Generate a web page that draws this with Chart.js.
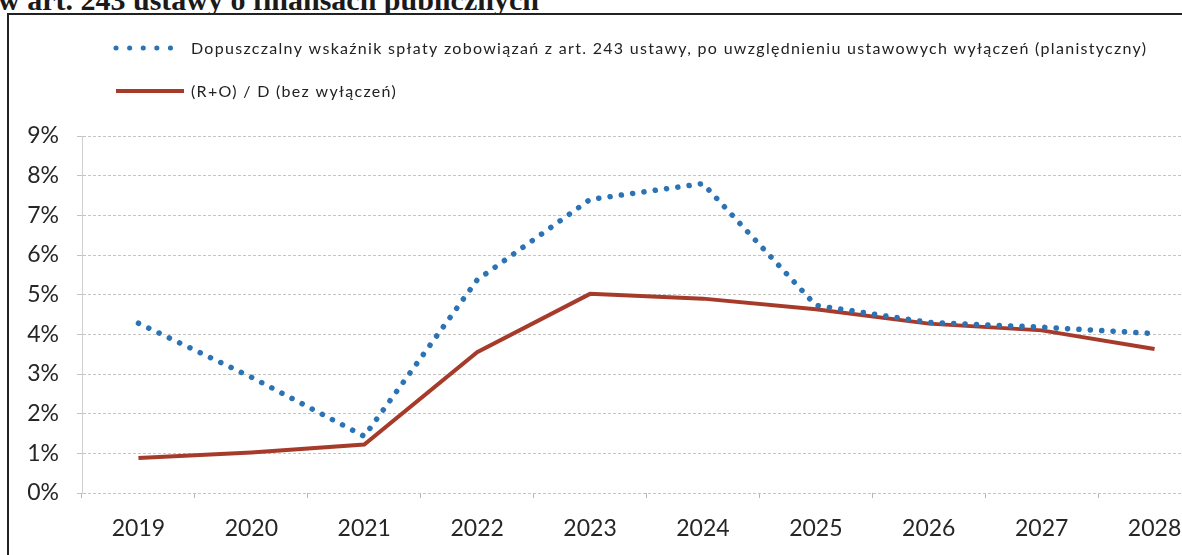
<!DOCTYPE html>
<html>
<head>
<meta charset="utf-8">
<script src="https://cdn.jsdelivr.net/npm/chart.js"></script>
<style>
  html, body { margin:0; padding:0; background:#fff; width:1182px; height:555px; overflow:hidden; }
  #title { position:absolute; left:-2px; top:-15px; font:bold 30px "Liberation Serif", serif; line-height:30px; color:#1a1a1a; white-space:nowrap; }
  #box { position:absolute; left:7px; top:13px; width:1260px; height:600px; border:2px solid #222; box-sizing:border-box; background:#fff; }
  #wrap { position:absolute; left:0; top:0; width:1240px; height:555px; }
</style>
</head>
<body>
<div id="title">w art. 243 ustawy o finansach publicznych</div>
<div id="box"></div>
<div id="wrap"><canvas id="Chart"></canvas></div>
<script>
const years = ['2019','2020','2021','2022','2023','2024','2025','2026','2027','2028'];
const dopuszczalny = [4.28, 2.92, 1.43, 5.37, 7.40, 7.80, 4.73, 4.30, 4.18, 4.02];
const rodBezWylaczen = [0.88, 1.02, 1.22, 3.55, 5.02, 4.90, 4.63, 4.27, 4.10, 3.63];
const labelDop = 'Dopuszczalny wskaźnik spłaty zobowiązań z art. 243 ustawy, po uwzględnieniu ustawowych wyłączeń (planistyczny)';
const labelRod = '(R+O) / D (bez wyłączeń)';

const blue = '#2b73b4';
const red = '#a63b2b';

// legenda rysowana recznie: dwa wiersze jak w oryginale
const rowLegend = {
    id: 'rowLegend',
    afterDraw(chart) {
        const ctx = chart.ctx;
        const rows = [48, 91];
        chart.data.datasets.forEach((ds, i) => {
            const y = rows[i];
            ctx.save();
            ctx.strokeStyle = ds.borderColor;
            ctx.lineWidth = ds.borderDash ? 5 : 4;
            ctx.lineCap = ds.borderCapStyle || 'butt';
            ctx.setLineDash(ds.borderDash ? [0.1, 13.5] : []);
            ctx.beginPath();
            ctx.moveTo(116, y);
            ctx.lineTo(184, y);
            ctx.stroke();
            ctx.setLineDash([]);
            ctx.fillStyle = '#222';
            ctx.font = '16px Lato';
            ctx.letterSpacing = '1.3px';
            ctx.textBaseline = 'middle';
            ctx.fillText(ds.label, 191, y + 1);
            ctx.restore();
        });
    }
};

const ctx = document.getElementById('Chart');

new Chart(ctx, {
    type: 'line',
    data: {
        labels: years,
        datasets: [{
            label: labelDop,
            data: dopuszczalny,
            borderColor: blue,
            borderWidth: 5.5,
            borderDash: [0.1, 11.3],
            borderCapStyle: 'round',
            pointRadius: 0,
            tension: 0,
            fill: false
        }, {
            label: labelRod,
            data: rodBezWylaczen,
            borderColor: red,
            borderWidth: 4,
            borderCapStyle: 'butt',
            borderJoinStyle: 'miter',
            pointRadius: 0,
            tension: 0,
            fill: false
        }]
    },
    options: {
        responsive: true,
        maintainAspectRatio: false,
        animation: false,
        layout: {
            padding: { top: 136, right: 29, bottom: 0, left: 0 }
        },
        scales: {
            x: {
                offset: true,
                afterFit: (s) => { s.height = 62; },
                grid: {
                    offset: true,
                    drawOnChartArea: false,
                    drawTicks: true,
                    tickLength: 5,
                    color: '#b5b5b5'
                },
                border: { display: false },
                ticks: {
                    color: '#262626',
                    padding: 17,
                    maxRotation: 0,
                    font: { family: 'Lato', size: 23 }
                }
            },
            y: {
                min: 0,
                max: 9,
                afterFit: (s) => { s.width = 82; },
                grid: {
                    color: '#c4c4c4',
                    lineWidth: 1,
                    tickLength: 5
                },
                border: { display: true, color: '#d0d0d0', dash: [3, 2] },
                ticks: {
                    stepSize: 1,
                    color: '#262626',
                    padding: 18,
                    font: { family: 'Lato', size: 23 },
                    callback: (v) => v + '%'
                }
            }
        },
        plugins: {
            legend: { display: false },
            tooltip: { enabled: false }
        }
    },
    plugins: [rowLegend]
});
</script>
</body>
</html>
